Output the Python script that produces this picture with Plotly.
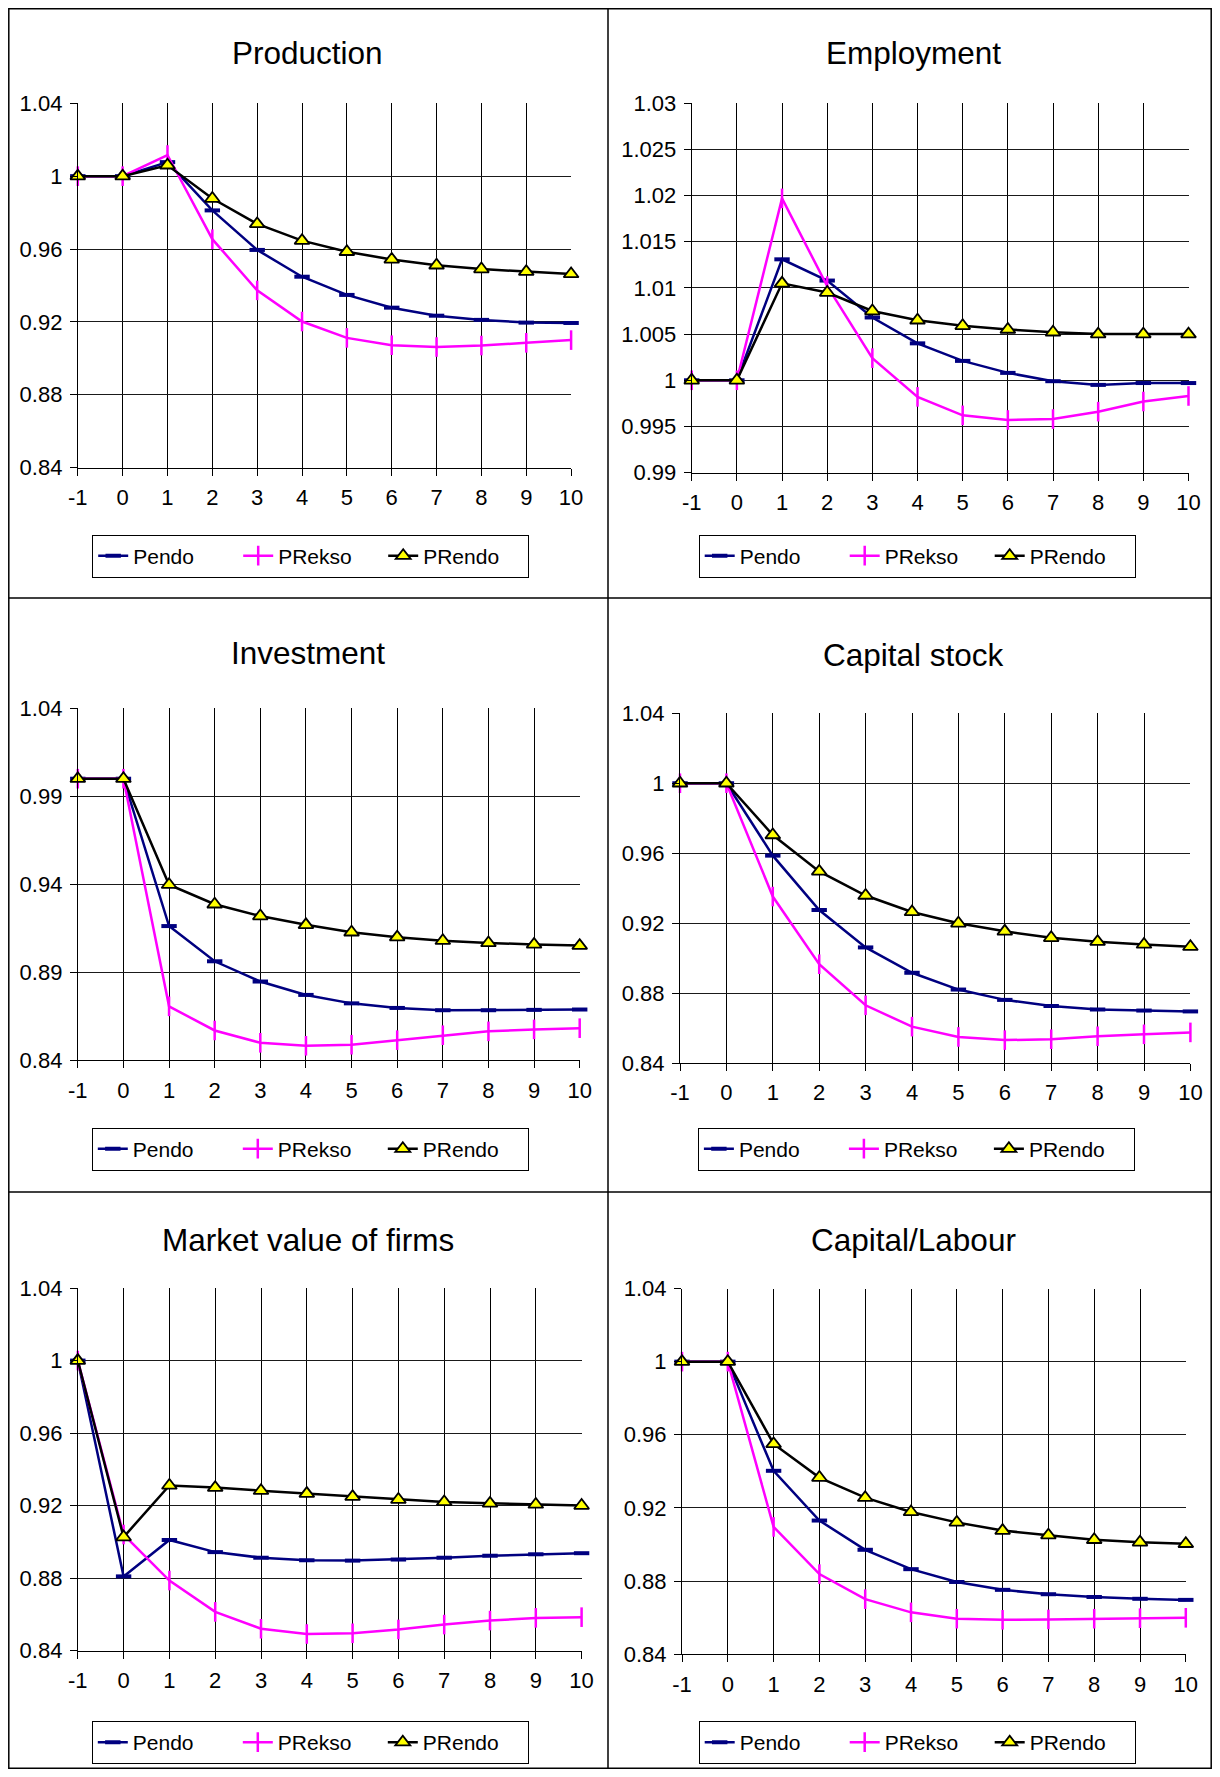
import plotly.graph_objects as go

# ---------------- data ----------------
periods = [-1, 0, 1, 2, 3, 4, 5, 6, 7, 8, 9, 10]
x_tick_labels = ["-1", "0", "1", "2", "3", "4", "5", "6", "7", "8", "9", "10"]
series_names = ["Pendo", "PRekso", "PRendo"]
panel_titles = ["Production", "Employment", "Investment", "Capital stock",
                "Market value of firms", "Capital/Labour"]

prod_pendo = [1.0, 1.0, 1.0077, 0.9812, 0.9595, 0.9448, 0.9348, 0.9278, 0.9234, 0.9211, 0.9196, 0.9194]
prod_prekso = [1.0, 1.0, 1.0116, 0.9654, 0.9373, 0.9202, 0.9112, 0.9072, 0.9062, 0.9070, 0.9085, 0.9100]
prod_prendo = [1.0, 1.0, 1.0060, 0.9877, 0.9738, 0.9646, 0.9585, 0.9543, 0.9511, 0.9490, 0.9476, 0.9463]

emp_pendo = [1.0, 1.0, 1.0131, 1.0108, 1.0068, 1.0040, 1.0021, 1.0008, 0.9999, 0.9995, 0.9997, 0.9997]
emp_prekso = [1.0, 1.0, 1.0197, 1.0102, 1.0024, 0.9982, 0.9962, 0.9957, 0.9958, 0.9966, 0.9977, 0.9983]
emp_prendo = [1.0, 1.0, 1.0105, 1.0095, 1.0075, 1.0065, 1.0059, 1.0055, 1.0052, 1.0050, 1.0050, 1.0050]

inv_pendo = [1.0, 1.0, 0.9163, 0.8963, 0.8848, 0.8772, 0.8724, 0.8698, 0.8685, 0.8685, 0.8687, 0.8689]
inv_prekso = [1.0, 1.0, 0.8707, 0.8570, 0.8500, 0.8483, 0.8489, 0.8515, 0.8543, 0.8565, 0.8576, 0.8583]
inv_prendo = [1.0, 1.0, 0.9398, 0.9287, 0.9220, 0.9170, 0.9128, 0.9100, 0.9080, 0.9067, 0.9059, 0.9052]

cap_pendo = [1.0, 1.0, 0.9586, 0.9275, 0.9061, 0.8916, 0.8820, 0.8761, 0.8726, 0.8706, 0.8700, 0.8695]
cap_prekso = [1.0, 1.0, 0.9352, 0.8965, 0.8730, 0.8608, 0.8549, 0.8531, 0.8536, 0.8553, 0.8564, 0.8575]
cap_prendo = [1.0, 1.0, 0.9704, 0.9496, 0.9358, 0.9264, 0.9199, 0.9153, 0.9116, 0.9094, 0.9078, 0.9065]

mv_pendo = [1.0, 0.8809, 0.9010, 0.8943, 0.8912, 0.8898, 0.8896, 0.8902, 0.8912, 0.8923, 0.8931, 0.8937]
mv_prekso = [1.0, 0.9040, 0.8786, 0.8613, 0.8520, 0.8491, 0.8495, 0.8516, 0.8543, 0.8565, 0.8580, 0.8584]
mv_prendo = [1.0, 0.9026, 0.9311, 0.9299, 0.9282, 0.9266, 0.9249, 0.9233, 0.9220, 0.9212, 0.9206, 0.9200]

kl_pendo = [1.0, 1.0, 0.9403, 0.9131, 0.8971, 0.8865, 0.8795, 0.8752, 0.8728, 0.8713, 0.8703, 0.8697]
kl_prekso = [1.0, 1.0, 0.9096, 0.8838, 0.8701, 0.8629, 0.8594, 0.8588, 0.8590, 0.8594, 0.8597, 0.8599]
kl_prendo = [1.0, 1.0, 0.9550, 0.9366, 0.9256, 0.9178, 0.9121, 0.9076, 0.9051, 0.9026, 0.9012, 0.9004]

y_ticks_std = [0.84, 0.88, 0.92, 0.96, 1.0, 1.04]
y_labels_std = ["0.84", "0.88", "0.92", "0.96", "1", "1.04"]
y_ticks_emp = [0.99, 0.995, 1.0, 1.005, 1.01, 1.015, 1.02, 1.025, 1.03]
y_labels_emp = ["0.99", "0.995", "1", "1.005", "1.01", "1.015", "1.02", "1.025", "1.03"]
y_ticks_inv = [0.84, 0.89, 0.94, 0.99, 1.04]
y_labels_inv = ["0.84", "0.89", "0.94", "0.99", "1.04"]

panel_data = [
    (prod_pendo, prod_prekso, prod_prendo, y_ticks_std, y_labels_std),
    (emp_pendo, emp_prekso, emp_prendo, y_ticks_emp, y_labels_emp),
    (inv_pendo, inv_prekso, inv_prendo, y_ticks_inv, y_labels_inv),
    (cap_pendo, cap_prekso, cap_prendo, y_ticks_std, y_labels_std),
    (mv_pendo, mv_prekso, mv_prendo, y_ticks_std, y_labels_std),
    (kl_pendo, kl_prekso, kl_prendo, y_ticks_std, y_labels_std),
]

# ---------------- layout geometry (screen pixels) ----------------
PAGE_MARGIN = 8                       # default <body> margin of the page
W, H = 1220 - 2 * PAGE_MARGIN, 1777 - 2 * PAGE_MARGIN
FONT = "Liberation Sans, Arial, sans-serif"

# plot area boxes: left, right, top, bottom
plot_boxes = [
    (77.8, 571.1, 103.3, 467.6),
    (691.7, 1188.5, 103.3, 472.6),
    (77.8, 579.7, 708.3, 1060.4),
    (680.0, 1190.4, 713.3, 1063.0),
    (77.8, 581.6, 1288.1, 1650.5),
    (682.0, 1185.8, 1288.5, 1654.2),
]
title_pos = [(307.5, 53), (913, 53), (307.5, 653), (913, 655), (307.5, 1240), (913, 1240)]
# legend: left edge, vertical centre
legend_pos = [(92.2, 556), (698.7, 556), (91.8, 1149), (697.9, 1149), (91.8, 1742.5), (698.7, 1742.5)]


def px(v):
    return (v - PAGE_MARGIN) / W


def py(v):
    return 1 - (v - PAGE_MARGIN) / H


styles = [
    dict(line=dict(color="#000080", width=2.5),
         marker=dict(symbol="line-ew", size=11, color="#000080",
                     line=dict(color="#000080", width=4))),
    dict(line=dict(color="#FF00FF", width=2.5),
         marker=dict(symbol="line-ns", size=14, color="#FF00FF",
                     line=dict(color="#FF00FF", width=2.5))),
    dict(line=dict(color="#000000", width=2.5),
         marker=dict(symbol="triangle-up", size=13, color="#FFFF00",
                     line=dict(color="#000000", width=1.8))),
]

fig = go.Figure()
layout = dict(
    width=W, height=H,
    margin=dict(l=0, r=0, t=0, b=0, autoexpand=False),
    paper_bgcolor="white", plot_bgcolor="white",
    font=dict(family=FONT, color="black"),
    annotations=[], shapes=[],
)

for i, (pendo, prekso, prendo, yt, yl) in enumerate(panel_data):
    n = i + 1
    sfx = "" if n == 1 else str(n)
    xa, ya = "x" + sfx, "y" + sfx
    leg = "legend" + sfx
    for name, vals, st in zip(series_names, (pendo, prekso, prendo), styles):
        fig.add_trace(go.Scatter(
            x=periods, y=vals, name=name, mode="lines+markers",
            xaxis=xa, yaxis=ya, legend=leg, cliponaxis=False,
            line=st["line"], marker=st["marker"],
        ))
    l, r, t, b = plot_boxes[i]
    layout["xaxis" + sfx] = dict(
        domain=[px(l), px(r)], anchor=ya, range=[-1, 10],
        tickvals=periods, ticktext=x_tick_labels,
        showgrid=True, gridcolor="#000000", gridwidth=1,
        showline=True, linecolor="#000000", linewidth=1,
        ticks="outside", ticklen=7, tickcolor="#000000",
        tickfont=dict(family=FONT, size=22, color="black"),
        ticklabelstandoff=3, zeroline=False, fixedrange=True,
    )
    layout["yaxis" + sfx] = dict(
        domain=[py(b), py(t)], anchor=xa, range=[yt[0], yt[-1]],
        tickvals=yt, ticktext=yl,
        showgrid=True, gridcolor="#1a1a1a", gridwidth=1,
        showline=True, linecolor="#000000", linewidth=1,
        ticks="outside", ticklen=7, tickcolor="#000000",
        tickfont=dict(family=FONT, size=22, color="black"),
        ticklabelstandoff=3, zeroline=False, fixedrange=True,
    )
    tx, ty = title_pos[i]
    layout["annotations"].append(dict(
        text=panel_titles[i], xref="paper", yref="paper", x=px(tx), y=py(ty),
        xanchor="center", yanchor="middle", showarrow=False,
        font=dict(family=FONT, size=31.5, color="black")))
    lx, ly = legend_pos[i]
    layout[leg] = dict(
        x=px(lx), y=py(ly), xanchor="left", yanchor="middle",
        orientation="h", bgcolor="white", bordercolor="#000000", borderwidth=1,
        font=dict(family=FONT, size=21, color="black"),
        entrywidth=100, entrywidthmode="pixels", itemclick=False,
    )

# panel frames (kept just inside the drawable figure area)
frame_line = dict(color="#000000", width=1.5)
FL, FR, FT, FB = 8.8, 1211.2, 8.8, 1768.2
layout["shapes"] += [
    dict(type="rect", xref="paper", yref="paper", x0=px(FL), x1=px(FR), y0=py(FB), y1=py(FT),
         line=frame_line, layer="above"),
    dict(type="line", xref="paper", yref="paper", x0=px(608), x1=px(608), y0=py(FB), y1=py(FT),
         line=frame_line, layer="above"),
    dict(type="line", xref="paper", yref="paper", x0=px(FL), x1=px(FR), y0=py(598), y1=py(598),
         line=frame_line, layer="above"),
    dict(type="line", xref="paper", yref="paper", x0=px(FL), x1=px(FR), y0=py(1192), y1=py(1192),
         line=frame_line, layer="above"),
]

fig.update_layout(**layout)
fig.write_html("out.html", config={"displayModeBar": False, "responsive": False})
